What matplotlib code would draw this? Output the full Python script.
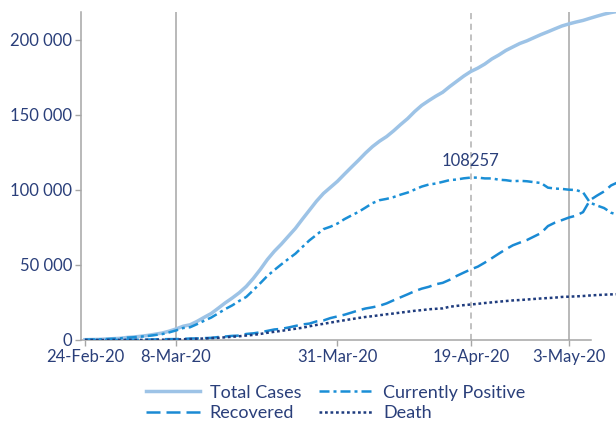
import matplotlib
matplotlib.use("Agg")
import matplotlib.pyplot as plt
import numpy as np

plt.rcParams['font.family'] = ['Lato', 'DejaVu Sans']

start_date = "2020-02-24"
total_cases = [229, 322, 400, 650, 888, 1128, 1694, 2036, 2502, 3089, 3858, 4636, 5883, 7375,
               9172, 10149, 12462, 15113, 17660, 21157, 24747, 27980, 31506, 35713, 41035, 47021,
               53578, 59138, 63927, 69176, 74386, 80539, 86498, 92472, 97689, 101739, 105792,
               110574, 115242, 119827, 124632, 128948, 132547, 135586, 139422, 143626, 147577,
               152271, 156363, 159516, 162488, 165155, 168941, 172434, 175925, 178972, 181228,
               183957, 187327, 189973, 192994, 195351, 197675, 199414, 201505, 203591, 205463,
               207428, 209328, 210717, 211938, 213013, 214457, 215858, 217185, 218268, 219070]
currently_positive = [221, 311, 385, 588, 821, 1049, 1577, 1835, 2263, 2706, 3296, 3916, 5061, 6387,
                      7985, 8514, 10590, 12839, 14955, 17750, 20603, 23073, 26062, 28710, 33190,
                      37860, 42681, 46638, 50418, 54030, 57521, 62013, 66414, 70065, 73880, 75528,
                      77635, 80572, 83049, 85388, 88274, 91246, 93187, 94067, 95262, 96877, 98273,
                      100269, 102253, 103616, 104291, 105418, 106607, 106962, 107771, 108257,
                      108237, 107709, 107699, 106848, 106527, 105847, 106103, 105813, 105205,
                      104657, 101551, 100943, 100704, 100179, 99980, 98467, 91528, 89624, 87961,
                      84842, 83324]
recovered = [1, 1, 3, 45, 46, 50, 83, 149, 160, 276, 414, 523, 589, 622, 724, 1004, 1045, 1258,
             1439, 1966, 2335, 2749, 2941, 4025, 4440, 5129, 6072, 7024, 7432, 8326, 9362, 10361,
             10950, 12384, 13030, 14620, 15729, 16847, 18278, 19758, 20996, 21815, 22837, 24392,
             26491, 28470, 30455, 32534, 34211, 35435, 37130, 38092, 40164, 42727, 44927, 47055,
             48877, 51600, 54543, 57576, 60498, 63120, 64928, 66624, 68941, 71252, 75945, 78249,
             79914, 81654, 82879, 85231, 93245, 96276, 99023, 103031, 105186]
deaths = [7, 10, 12, 17, 21, 29, 34, 52, 79, 107, 148, 197, 233, 366, 463, 631, 827, 1016, 1266,
          1441, 1809, 2158, 2503, 2978, 3405, 4032, 4825, 5476, 6077, 6820, 7503, 8165, 9134,
          10023, 10779, 11591, 12428, 13155, 13915, 14681, 15362, 15887, 16523, 17127, 17669,
          18279, 18849, 19468, 19899, 20465, 20794, 21067, 22170, 22745, 23227, 23660, 24114,
          24648, 25085, 25549, 25969, 26384, 26644, 26977, 27359, 27682, 27967, 28236, 28710,
          28884, 29079, 29315, 29684, 29958, 30201, 30395, 30560]

tick_days = [0, 13, 36, 55, 69]
tick_labels = ["24-Feb-20", "8-Mar-20", "31-Mar-20", "19-Apr-20", "3-May-20"]
solid_marks = [13, 69]
dashed_mark = 55
peak_label = "108257"

ytick_vals = [0, 50000, 100000, 150000, 200000]
ytick_labels = ["0", "50 000", "100 000", "150 000", "200 000"]

days = np.arange(len(total_cases))
txt = "#2A3F7A"
grid_c = "#A6A6A6"

fig = plt.figure(figsize=(6.16, 4.25), dpi=100)
ax = fig.add_axes([0.131, 0.2, 0.869, 0.772])

for d in solid_marks:
    ax.axvline(d, color=grid_c, lw=1.1, zorder=1)
ax.axvline(dashed_mark, color="#B0B0B0", lw=1.1, ls=(0, (4, 3)), zorder=1)

ax.plot(days, total_cases, color="#9DC3E6", lw=2.5, label="Total Cases", zorder=3)
ax.plot(days, recovered, color="#1A8AD4", lw=1.8, ls=(0, (5.6, 2.4)), label="Recovered", zorder=3)
ax.plot(days, currently_positive, color="#1A8FD6", lw=1.8, ls=(0, (4, 1.6, 1.2, 1.6)),
        label="Currently Positive", zorder=3)
ax.plot(days, deaths, color="#1F3C7E", lw=1.8, ls=(0, (1.1, 1.1)), label="Death", zorder=3)

peak_i = int(np.argmax(currently_positive))
ax.annotate(peak_label, (days[peak_i], currently_positive[peak_i]), xytext=(0, 6),
            textcoords="offset points", ha="center", va="bottom", color=txt, fontsize=12)

ax.set_xlim(-0.6, 75.7)
ax.set_ylim(0, 218700)
ax.set_xticks(tick_days)
ax.set_xticklabels(tick_labels)
ax.set_yticks(ytick_vals)
ax.set_yticklabels(ytick_labels)
ax.tick_params(colors=grid_c, labelcolor=txt, labelsize=12, length=4, width=1)
ax.tick_params(axis='x', pad=2.5)
ax.tick_params(axis='y', pad=2)
for s in ["top", "right"]:
    ax.spines[s].set_visible(False)
for s in ["left", "bottom"]:
    ax.spines[s].set_color(grid_c)
    ax.spines[s].set_linewidth(1.1)
ax.spines["bottom"].set_bounds(-0.6, 72.1)

h, l = ax.get_legend_handles_labels()
leg = fig.legend(h, l, ncol=2, frameon=False,
                 loc="center", bbox_to_anchor=(0.545, 0.052), fontsize=13,
                 handlelength=3.0, columnspacing=1.0, labelspacing=0.25, handletextpad=0.55)
for t in leg.get_texts():
    t.set_color(txt)

fig.savefig("out.png", dpi=100)
